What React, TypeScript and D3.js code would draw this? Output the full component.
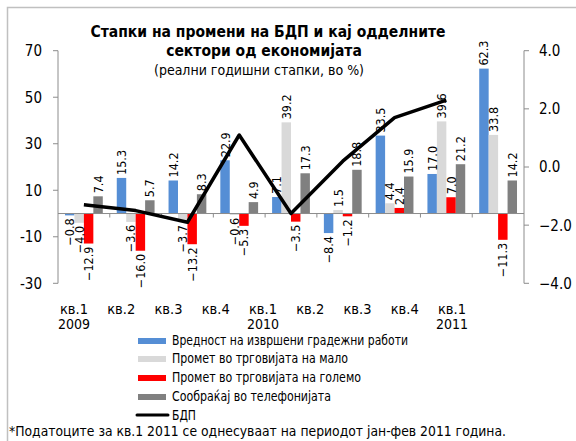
import * as d3 from "d3"

const quarters = ["кв.1", "кв.2", "кв.3", "кв.4", "кв.1", "кв.2", "кв.3", "кв.4", "кв.1"]
const years = ["2009", "", "", "", "2010", "", "", "", "2011"]
const categories = quarters.map((q, i) => `${i}`)

const seriesNames = [
  "Вредност на извршени градежни работи",
  "Промет во трговијата на мало",
  "Промет во трговијата на големо",
  "Сообраќај во телефонијата",
]
const seriesColours = ["#558ed5", "#d9d9d9", "#ff0000", "#808080"]

const construction = [-0.8, 15.3, 14.2, 22.9, 7.1, -8.4, 33.5, 17.0, 62.3]
const retail = [-4.0, -3.6, -3.7, -0.6, 39.2, 1.5, 4.4, 39.6, 33.8]
const wholesale = [-12.9, -16.0, -13.2, -5.3, -3.5, -1.2, 2.4, 7.0, -11.3]
const telecom = [7.4, 5.7, 8.3, 4.9, 17.3, 18.8, 15.9, 21.2, 14.2]
const gdp = [-1.3, -1.5, -1.9, 1.1, -1.6, 0.2, 1.7, 2.3]

const leftTicks = [70, 50, 30, 10, -10, -30]
const rightTicks = [4, 2, 0, -2, -4]

const FONT = "'DejaVu Sans Condensed', 'DejaVu Sans', sans-serif"
const AXIS = "#8c8c8c"

export default function App() {
  const seriesValues = [construction, retail, wholesale, telecom]

  const x0 = d3
    .scaleBand()
    .domain(categories)
    .range([58, 524])
    .paddingInner(0.27)
    .paddingOuter(0.135)
  const x1 = d3.scaleBand().domain(seriesNames).range([0, x0.bandwidth()])
  // category labels sit a bit left of the groups in the original
  const xLabel = d3.scalePoint().domain(categories).range([74, 452])

  const yL = d3.scaleLinear().domain([-30, 70]).range([283.3, 50.7])
  const yR = d3.scaleLinear().domain([-4, 4]).range([283.3, 50.7])

  const line = d3
    .line<number>()
    .x((_, i) => x0(categories[i])! + x0.bandwidth() / 2)
    .y((d) => yR(d))

  const legendRows = [345, 363, 382, 401]
  const legendWidths = [236, 176, 189, 159]

  return (
    <svg
      width={576}
      height={441}
      style={{ position: "absolute", left: 0, top: 0, background: "#fff" }}
      fontFamily={FONT}
    >
      <rect x={7.5} y={7.5} width={620} height={480} fill="#fff" stroke="#c0c0c0" strokeWidth={1.5} />

      {/* title */}
      <text x={268} y={37} textAnchor="middle" fontWeight="bold" fontSize={15.5}>
        Стапки на промени на БДП и кај одделните
      </text>
      <text x={264} y={56} textAnchor="middle" fontWeight="bold" fontSize={15.5}>
        сектори од економијата
      </text>
      <text x={259} y={75} textAnchor="middle" fontSize={14}>
        (реални годишни стапки, во %)
      </text>

      {/* left axis */}
      <line x1={58} x2={58} y1={yL(70)} y2={yL(-30)} stroke={AXIS} />
      {leftTicks.map((t) => (
        <g key={t}>
          <line x1={53} x2={58} y1={yL(t)} y2={yL(t)} stroke={AXIS} />
          <text x={42} y={yL(t)} dy="0.36em" textAnchor="end" fontSize={15}>
            {t}
          </text>
        </g>
      ))}

      {/* right axis */}
      <line x1={524} x2={524} y1={yR(4)} y2={yR(-4)} stroke={AXIS} />
      {rightTicks.map((t) => (
        <g key={t}>
          <line x1={524} x2={529} y1={yR(t)} y2={yR(t)} stroke={AXIS} />
          <text x={539} y={yR(t)} dy="0.36em" textAnchor="start" fontSize={15}>
            {d3.format(".1f")(t)}
          </text>
        </g>
      ))}

      {/* bars */}
      {categories.map((c, i) => (
        <g key={c} transform={`translate(${x0(c)},0)`}>
          {seriesNames.map((s, j) => {
            const v = seriesValues[j][i]
            const top = Math.min(yL(v), yL(0))
            return (
              <rect
                key={s}
                x={x1(s)}
                y={top}
                width={x1.bandwidth()}
                height={Math.abs(yL(v) - yL(0))}
                fill={seriesColours[j]}
              />
            )
          })}
        </g>
      ))}

      {/* category axis */}
      <line x1={58} x2={524} y1={yL(0)} y2={yL(0)} stroke={AXIS} />
      {categories.slice(1).map((c) => (
        <line
          key={c}
          x1={x0(c)! - (x0.step() - x0.bandwidth()) / 2}
          x2={x0(c)! - (x0.step() - x0.bandwidth()) / 2}
          y1={yL(0)}
          y2={yL(0) + 4}
          stroke={AXIS}
        />
      ))}

      {/* data labels */}
      {categories.map((c, i) =>
        seriesNames.map((s, j) => {
          const v = seriesValues[j][i]
          const cx = x0(c)! + x1(s)! + x1.bandwidth() / 2
          const cy = v >= 0 ? yL(v) - 3 : yL(v) + 3
          return (
            <text
              key={`${c}-${s}`}
              transform={`translate(${cx},${cy}) rotate(-90)`}
              dy="0.36em"
              textAnchor={v >= 0 ? "start" : "end"}
              fontSize={12.5}
            >
              {d3.format(".1f")(v)}
            </text>
          )
        })
      )}

      {/* GDP line */}
      <path d={line(gdp)!} fill="none" stroke="#000" strokeWidth={3.5} strokeLinejoin="round" />

      {/* x labels */}
      {categories.map((c, i) => (
        <g key={c}>
          <text x={xLabel(c)} y={314} textAnchor="middle" fontSize={14.5}>
            {quarters[i]}
          </text>
          {years[i] && (
            <text x={xLabel(c)} y={329} textAnchor="middle" fontSize={14}>
              {years[i]}
            </text>
          )}
        </g>
      ))}

      {/* legend */}
      {seriesNames.map((s, j) => (
        <g key={s}>
          <rect x={138} y={legendRows[j] - 7} width={28} height={6} fill={seriesColours[j]} />
          <text
            x={172}
            y={legendRows[j]}
            fontSize={14}
            textLength={legendWidths[j]}
            lengthAdjust="spacingAndGlyphs"
          >
            {s}
          </text>
        </g>
      ))}
      <line x1={137} x2={168} y1={415} y2={415} stroke="#000" strokeWidth={3} strokeLinecap="round" />
      <text x={172} y={420} fontSize={14.5} textLength={24} lengthAdjust="spacingAndGlyphs">
        БДП
      </text>

      <text x={9} y={436} fontSize={14.5} textLength={497} lengthAdjust="spacingAndGlyphs">
        *Податоците за кв.1 2011 се однесуваат на периодот јан-фев 2011 година.
      </text>
    </svg>
  )
}
